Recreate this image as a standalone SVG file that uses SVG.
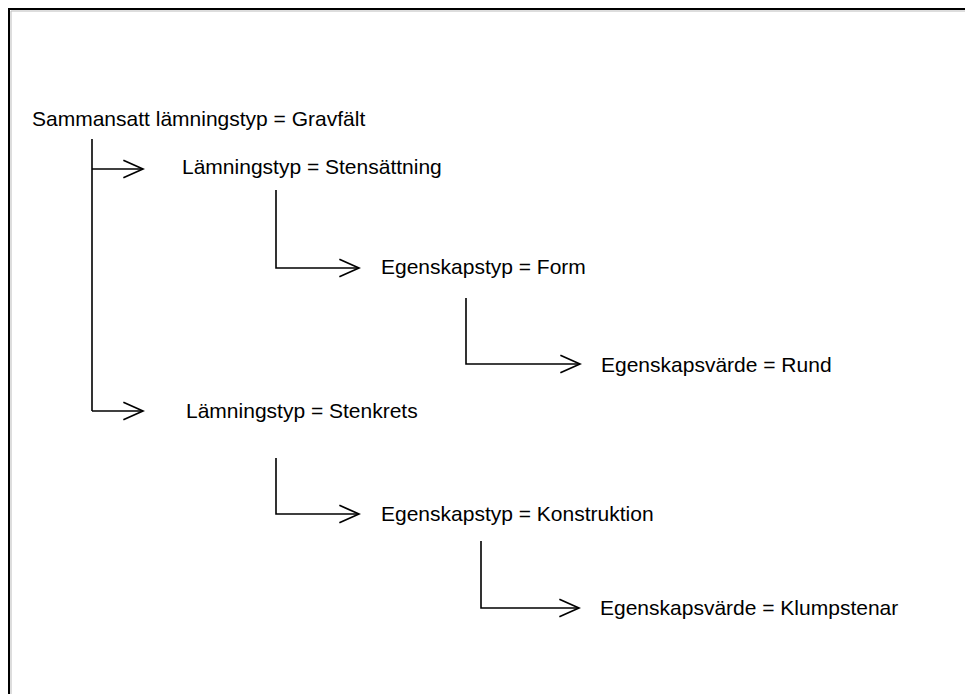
<svg xmlns="http://www.w3.org/2000/svg" width="965" height="694" viewBox="0 0 965 694">
<defs>
<style>
.t{font-family:"Liberation Sans",Arial,sans-serif;font-size:21px;fill:#000}
.c{fill:none;stroke:#000;stroke-width:1.6}
.b{fill:none;stroke:#000;stroke-width:2}
</style>
<marker id="a" markerUnits="userSpaceOnUse" markerWidth="24" markerHeight="24" viewBox="-20 -10 22 20" refX="0" refY="0" orient="auto">
<path d="M-18,-8 L0,0 L-18,8" fill="none" stroke="#000" stroke-width="1.6"/>
</marker>
</defs>
<rect width="965" height="694" fill="#fff"/>
<path class="b" d="M9,694 V9 H965"/>
<path d="M11,694 V11 H965" fill="none" stroke="#bbb" stroke-width="1"/>
<g id="connectors">
<path class="c" d="M92,139 V411"/>
<path class="c" d="M92,169 H143" marker-end="url(#a)"/>
<path class="c" d="M92,411 H143" marker-end="url(#a)"/>
<path class="c" d="M276,190 V268 H359" marker-end="url(#a)"/>
<path class="c" d="M466,298 V364 H580" marker-end="url(#a)"/>
<path class="c" d="M276,458 V514 H359" marker-end="url(#a)"/>
<path class="c" d="M481,541 V608 H579" marker-end="url(#a)"/>
</g>
<g id="n1"><text class="t" x="32" y="126">Sammansatt lämningstyp = Gravfält</text></g>
<g id="n2"><text class="t" x="182" y="174">Lämningstyp = Stensättning</text></g>
<g id="n3"><text class="t" x="381" y="274">Egenskapstyp = Form</text></g>
<g id="n4"><text class="t" x="601" y="372">Egenskapsvärde = Rund</text></g>
<g id="n5"><text class="t" x="186" y="418">Lämningstyp = Stenkrets</text></g>
<g id="n6"><text class="t" x="381" y="521">Egenskapstyp = Konstruktion</text></g>
<g id="n7"><text class="t" x="600" y="615">Egenskapsvärde = Klumpstenar</text></g>
</svg>
